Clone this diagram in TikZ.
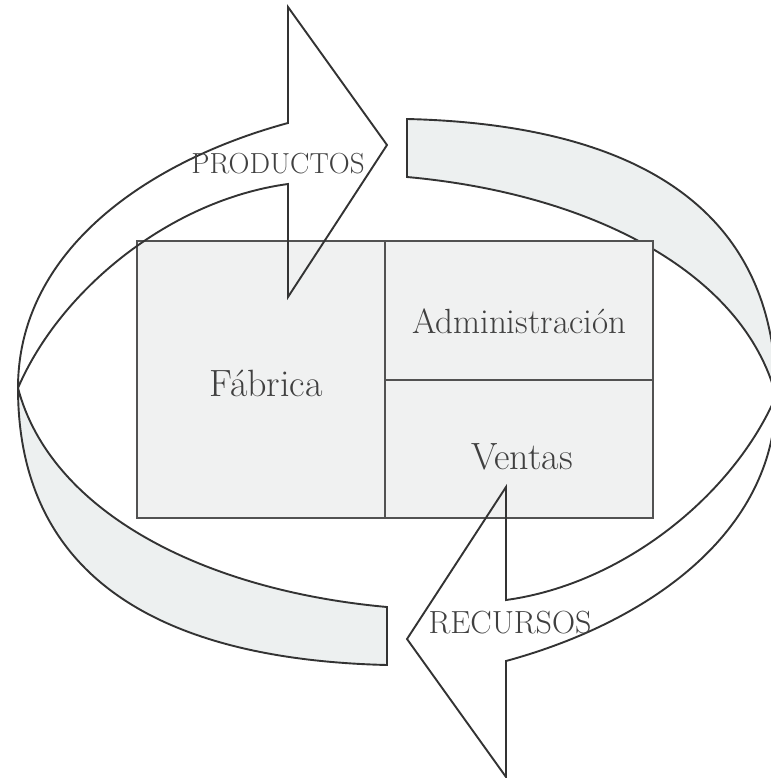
\documentclass[tikz,border=0pt]{standalone}
\usepackage{tikz}
\usetikzlibrary{positioning}
\definecolor{bandgray}{HTML}{EDF0F0}
\definecolor{boxgray}{HTML}{F0F1F1}
\definecolor{inkgray}{HTML}{333333}
\definecolor{textgray}{HTML}{404040}

\begin{document}
\begin{tikzpicture}[x=1pt, y=-1pt,
  band/.style={draw=inkgray, line width=1.9pt, line join=miter},
  area/.style={draw=inkgray!85, line width=2.2pt, fill=boxgray,
               inner sep=0pt, outer sep=0pt},
  unit/.style={font=\fontsize{38}{44}\selectfont, text=textgray},
  flow/.style={font=\fontsize{29}{34}\selectfont, text=textgray},
  ]
  \useasboundingbox (0,0) rectangle (770,778);

  % grey half bands, second one turned half round the centre
  \foreach \r in {0,180}
    \draw[band, fill=bandgray, rotate around={\r:(397,392)}]
      (18,388) .. controls (18,590) and (180,660) .. (387,665)
      -- (387,607) .. controls (200,590) and (50,510) .. (18,388) -- cycle;

  \node[area, minimum width=248pt, minimum height=277pt] (fab) at (261,379.5) {};
  \node[area, minimum width=268pt, minimum height=139pt, anchor=north west] (adm) at (fab.north east) {};
  \node[area, minimum width=268pt, minimum height=138pt, below=0pt of adm] (ven) {};

  \node[unit] (fabt) at ([xshift=5pt, yshift=-4pt]fab.center) {Fábrica};
  \node[unit, font=\fontsize{35}{40}\selectfont] (admt) at ([yshift=-11pt]adm.center) {Administración};
  \node[unit] (vent) at ([xshift=3pt, yshift=-8pt]ven.center) {Ventas};

  % white arrows on top of the boxes
  \foreach \r in {0,180}
    \draw[band, rotate around={\r:(397,392)}]
      (18,388) .. controls (18,250) and (148,161) .. (288,123)
      -- (288,7) -- (387,145) -- (288,297) -- (288,184)
      .. controls (170,200) and (60,290) .. (18,388) -- cycle;

  \node[flow] (prod) at (278,164) {PRODUCTOS};
  \node[flow, font=\fontsize{32}{37}\selectfont] (recu) at (510,623) {RECURSOS};
\end{tikzpicture}
\end{document}
